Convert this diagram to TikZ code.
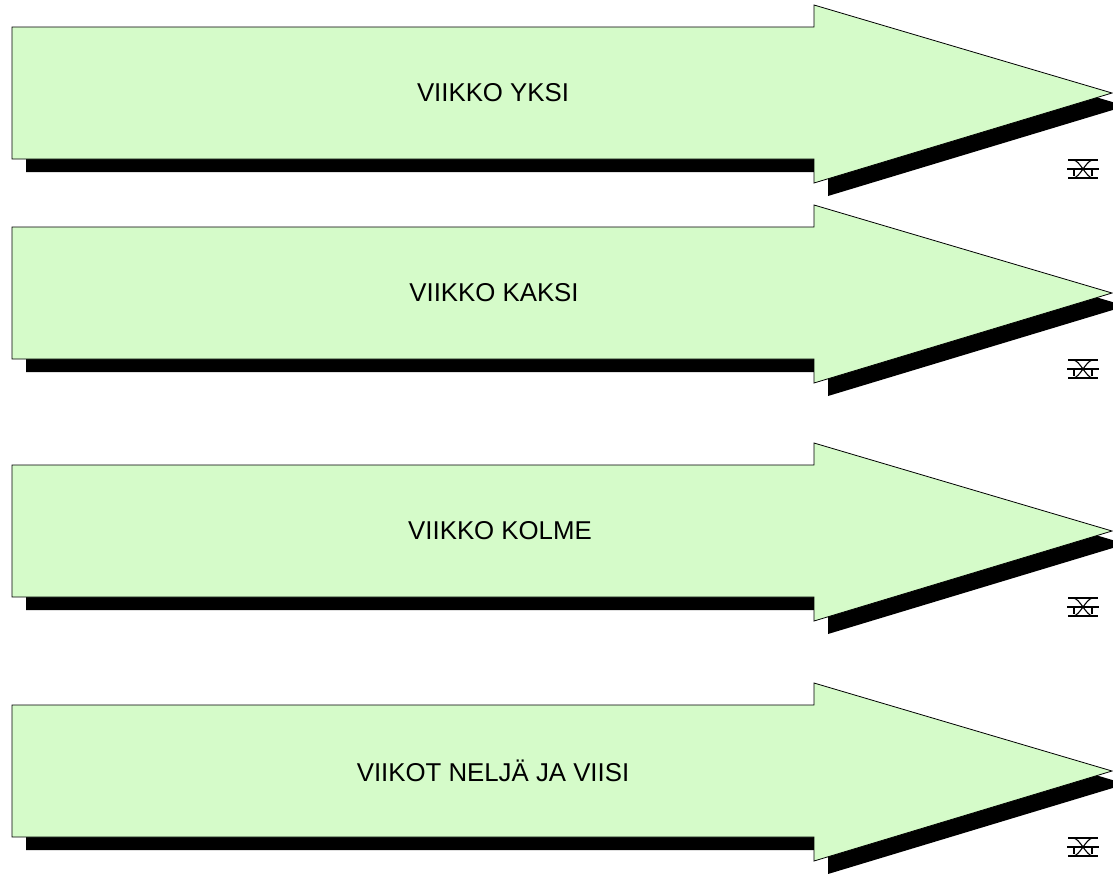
\documentclass[tikz,border=0pt]{standalone}
\usepackage{fontspec}
\setmainfont{Liberation Sans}
\definecolor{arrowfill}{RGB}{213,251,201}
\tikzset{
  x=1pt,y=-1pt,
  arrowbody/.style={fill=arrowfill,draw=black,line width=0.8pt,line join=miter},
  arrowshadow/.style={fill=black},
  label/.style={font=\fontsize{25.8}{30}\selectfont,inner sep=0pt,anchor=center},
  glyphline/.style={line width=1.1pt},
  pics/weekarrow/.style={code={
    \path[arrowshadow] (14,13) -- ++(802,0) -- ++(0,-22) -- ++(298,88) -- ++(-298,90) -- ++(0,-24) -- ++(-802,0) -- cycle;
    \path[arrowbody] (0,0) -- (802,0) -- (802,-22) -- (1100,66) -- (802,156) -- (802,132) -- (0,132) -- cycle;
    \begin{scope}[shift={(1055,132)}]
      \draw[glyphline] (1,1) -- (31,1);
      \draw[glyphline] (0,10) -- (32,10);
      \draw[glyphline] (1,19) -- (31,19);
      \draw[glyphline] (6,1) .. controls (13,1) and (19,19) .. (26,19);
      \draw[glyphline] (26,1) .. controls (19,1) and (13,19) .. (6,19);
      \draw[glyphline] (7,10) -- (7,17);
      \draw[glyphline] (25,10) -- (25,17);
    \end{scope}
  }}
}
\begin{document}
\begin{tikzpicture}
\clip (0,0) rectangle (1113,873);
\useasboundingbox (0,0) rectangle (1113,873);
\pic at (12,27) {weekarrow};
\pic at (12,227) {weekarrow};
\pic at (12,465) {weekarrow};
\pic at (12,705) {weekarrow};
\node[label] (w1) at (493,93) {VIIKKO YKSI};
\node[label] (w2) at (494,293) {VIIKKO KAKSI};
\node[label] (w3) at (500,531) {VIIKKO KOLME};
\node[label] (w4) at (493,771) {VIIKOT NELJÄ JA VIISI};
\end{tikzpicture}
\end{document}
